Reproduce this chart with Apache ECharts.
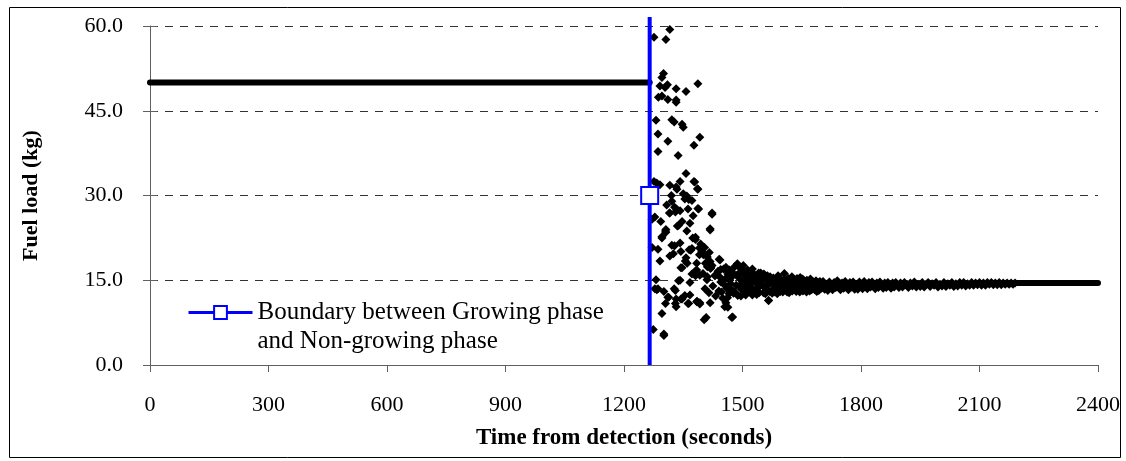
<!DOCTYPE html>
<html>
<head>
<meta charset="utf-8">
<script src="https://cdn.jsdelivr.net/npm/echarts@6/dist/echarts.min.js"></script>
<style>
html,body{margin:0;padding:0;background:#fff;}
#chart{width:1126px;height:461px;}
</style>
</head>
<body>
<div id="chart"></div>
<script>
// ---- data ----
var xTitle = 'Time from detection (seconds)';
var yTitle = 'Fuel load (kg)';
var boundaryName = 'Boundary between Growing phase\nand Non-growing phase';

// growing phase: fuel load held at 50 kg up to the boundary (dense points forming a line)
var growingPhase = [[0, 50], [1265, 50]];

// boundary between phases (vertical line, marker at 30 kg)
var boundaryX = 1265;
var boundaryY = [0, 30, 61.6];

// sparse scattered points right after the boundary
var scatterEarly = [
[1316,59.4],[1276,58.0],[1306,57.6],
[1300,51.6],[1296,50.9],[1291,49.4],[1310,49.6],[1304,49.1],[1332,48.9],[1357,48.4],[1387,49.8],[1287,47.4],[1296,47.6],[1311,47.0],[1332,46.9],[1332,46.5],
[1281,43.3],[1321,43.4],[1327,43.0],[1347,42.6],[1350,42.1],
[1286,40.9],[1392,40.3],[1311,39.6],[1377,38.9],[1286,37.8],[1337,37.1],
[1357,33.9],[1276,32.5],[1283,32.2],[1291,31.9],[1316,31.8],[1342,32.5],[1377,32.5],[1379,32.4],[1386,31.2],[1332,31.5],[1334,31.1],[1387,31.1],
[1320,30.0],[1350,30.3],[1359,29.9],[1364,29.3],[1372,29.1],[1354,29.4],[1321,29.0],[1308,28.3],
[1328,27.9],[1333,27.6],[1342,27.3],[1362,27.6],[1389,27.6],[1387,27.7],[1316,26.9],[1315,26.9],[1330,27.1],[1375,26.4],[1423,26.7],[1423,26.9],[1271,25.8],[1278,26.2],[1293,25.4],[1347,25.4],[1367,25.1],[1335,24.6],[1306,24.0],[1418,24.1],[1338,24.7],
[1305,23.7],[1359,23.7],[1306,23.5],[1418,23.9],[1296,22.5],[1374,22.5],[1381,22.2],[1381,22.6],[1296,22.7],
[1271,20.8],[1286,20.5],[1321,21.2],[1328,21.1],[1342,21.6],[1394,21.4],[1391,20.7],[1397,20.1],[1401,19.5],[1344,20.1],[1369,20.3],[1365,20.4],[1372,20.6],[1404,20.8],[1416,19.9],[1411,19.1],[1316,19.3],[1325,19.7],[1357,19.0],[1355,18.4],[1291,18.4],[1391,19.5],
[1418,18.3],[1423,17.6],[1443,18.6],[1441,18.7],[1360,18.0],[1384,18.0],[1406,18.0],[1411,17.4],[1344,17.2],[1347,17.2],[1419,17.1],[1458,17.3],[1445,16.9],[1467,16.8],[1487,17.9],[1492,17.3],[1502,17.6],[1525,17.0],[1379,16.5],[1384,16.8],[1372,16.1],[1381,15.8],[1392,15.9],[1411,15.6],[1431,15.9],[1541,16.3],[1554,16.1],[1563,15.8],
[1281,15.1],[1338,14.9],[1367,14.6],[1342,15.0],
[1278,13.5],[1283,13.3],[1327,13.5],[1286,13.5],[1330,13.2],[1301,13.0],[1477,12.7],[1354,12.3],[1367,12.4],
[1311,12.0],[1313,12.0],[1332,11.7],[1347,11.7],[1344,11.7],[1385,11.3],[1392,11.0],[1384,11.2],[1418,11.0],[1458,11.0],[1566,11.4],
[1305,10.9],[1330,10.9],[1364,10.9],[1362,10.9],[1392,10.8],[1332,10.3],[1463,10.2],[1455,10.3],
[1296,9.1],[1408,8.4],[1403,8.0],[1473,8.4],[1475,8.5],[1274,6.3],[1301,5.5],[1301,5.2]
];

// dense converging band
var band1 = [
[1400,16.2],[1405,13.5],[1410,15.1],[1415,12.8],[1420,17.2],[1425,14.0],[1430,15.8],[1432,12.2],[1438,16.6],[1440,13.1],[1445,14.7],[1450,11.8],[1452,17.0],[1456,15.2],[1460,13.6],[1463,16.1],[1466,12.6],[1470,14.4],[1474,15.7],[1478,13.0],[1480,17.4],[1484,14.1],[1488,12.3],[1490,15.5],[1494,16.4],[1497,13.4],[1500,14.8],[1503,12.7],[1506,15.9],[1510,13.8],[1513,16.8],[1516,14.3],[1520,12.9],[1523,15.3],[1526,13.5],[1530,16.0],[1533,14.6],[1536,12.5],[1540,15.1],[1543,13.9],[1546,16.3],[1550,14.2],
[1442,15.6],[1447,12.9],[1454,14.2],[1458,16.9],[1462,11.9],[1468,15.0],[1472,13.3],[1476,16.3],[1482,12.8],[1486,15.9],[1492,14.0],[1496,12.2],[1499,16.8],[1505,14.4],[1508,12.4],[1512,15.4],[1515,13.2],[1518,16.1],[1522,14.7],[1525,12.4],[1528,14.9],[1532,13.0],[1535,15.7],[1538,13.6],[1542,12.8],[1545,14.8],[1548,15.6]
];
var band2 = [
[1553,12.8],[1556,15.9],[1560,13.4],[1563,14.9],[1566,11.4],[1570,15.6],[1573,13.1],[1576,14.5],[1580,12.9],[1583,15.2],[1586,13.8],[1590,15.8],[1593,14.0],[1596,13.0],[1600,15.0],[1603,13.6],[1606,16.2],[1610,14.4],[1613,12.9],[1616,15.3],[1620,13.3],[1623,14.8],[1626,13.1],[1630,15.2],[1633,14.2],[1636,13.0],[1640,15.0],[1643,13.7],[1646,15.5],[1650,14.5],[1653,13.1],[1656,14.9],[1660,13.5],[1663,15.0],[1666,14.1],[1670,13.1],[1673,14.8],[1676,13.9],[1680,14.7],[1683,13.3],[1686,14.9],[1690,14.3],[1693,13.2],[1696,14.8],[1700,13.6],
[1551,15.3],[1555,13.9],[1558,12.6],[1561,15.6],[1565,14.2],[1568,13.0],[1571,14.6],[1575,12.7],[1578,15.4],[1582,13.7],[1585,14.9],[1588,12.6],[1592,15.0],[1595,13.3],[1598,14.5],[1602,12.9],[1605,14.9],[1608,13.5],[1612,15.1],[1615,14.0],[1618,12.8],[1622,14.4],[1625,15.6],[1628,13.6],[1632,14.9],[1635,13.4],[1638,15.3],[1642,14.3],[1645,12.9],[1648,13.8],[1652,15.2],[1655,13.4],[1658,14.3],[1662,12.9],[1665,14.6],[1668,13.7],[1672,15.2],[1675,13.3],[1678,14.4],[1682,13.6],[1685,14.2],[1688,13.0],[1692,14.6],[1695,13.5],[1698,14.1]
];
var band3 = [
[1704,14.8],[1708,13.4],[1712,14.3],[1716,13.2],[1720,14.7],[1724,13.9],[1728,13.3],[1732,14.6],[1736,13.7],[1740,14.9],[1744,14.1],[1748,13.3],[1752,14.5],[1756,13.6],[1760,14.8],[1764,14.2],[1768,13.3],[1772,14.6],[1776,13.8],[1780,14.7],[1784,13.4],[1788,14.3],[1792,13.4],[1796,14.7],[1800,14.0],[1804,13.5],[1808,14.8],[1812,13.9],[1816,13.5],[1820,14.6],[1824,13.8],[1828,14.7],[1832,14.1],[1836,13.5],[1840,14.5],[1844,13.7],[1848,14.7],[1852,14.1],[1856,13.6],[1860,14.5],[1864,13.7],[1868,14.6],[1872,14.0],[1876,13.6],[1880,14.5],[1884,13.8],[1888,14.6],[1892,14.2],[1896,13.7],[1900,14.5]
];
var band4 = [
[1905,13.8],[1910,14.6],[1915,14.1],[1920,13.7],[1925,14.5],[1930,14.0],[1935,14.7],[1940,13.8],[1945,14.3],[1950,13.9],[1955,14.6],[1960,13.8],[1965,14.3],[1970,14.6],[1975,13.9],[1980,14.4],[1985,14.1],[1990,14.6],[1995,13.8],[2000,14.3],[2005,14.0],[2010,14.6],[2015,13.9],[2020,14.4],[2025,14.1],[2030,14.6],[2035,13.9],[2040,14.4],[2045,14.0],[2050,14.6],[2055,14.1],[2060,14.6],[2065,14.0],[2070,14.4],[2075,14.1],[2080,14.6],[2085,14.1],[2090,14.5],[2095,14.2],[2100,14.6],[2105,14.1],[2110,14.5],[2115,14.1],[2120,14.6],[2125,14.3],[2130,14.6],[2135,14.2],[2140,14.5],[2145,14.2],[2150,14.6],[2155,14.2],[2160,14.5],[2165,14.3],[2170,14.5],[2175,14.3],[2180,14.5],[2185,14.3],[2190,14.5]
];
// settled tail (dense points forming a line)
var settledTail = [[2195, 14.5], [2400, 14.5]];

// axis ranges / ticks
var xMin = 0, xMax = 2400, xStep = 300;
var yMin = 0, yMax = 60, yStep = 15;

// ---- chart ----
var FONT = '"Liberation Serif", "Times New Roman", serif';
var chart = echarts.init(document.getElementById('chart'), null, {renderer: 'canvas'});

var axisLineStyle = {color: '#606060', width: 1};

var option = {
  backgroundColor: '#ffffff',
  animation: false,
  textStyle: {fontFamily: FONT},
  grid: {left: 150, right: 28, top: 26, bottom: 96, containLabel: false},
  legend: {
    data: [boundaryName],
    left: 182,
    top: 264,
    orient: 'vertical',
    itemWidth: 64,
    itemHeight: 16,
    selectedMode: false,
    lineStyle: {width: 3},
    formatter: function (name) { return ' \n' + name; },
    textStyle: {fontFamily: FONT, fontSize: 25, color: '#000', lineHeight: 29}
  },
  xAxis: {
    type: 'value', min: xMin, max: xMax, interval: xStep,
    name: xTitle, nameLocation: 'middle', nameGap: 62,
    nameTextStyle: {fontFamily: FONT, fontSize: 23, fontWeight: 'bold', color: '#000'},
    axisLine: {show: true, onZero: false, lineStyle: axisLineStyle},
    axisTick: {show: true, inside: false, length: 7, lineStyle: axisLineStyle},
    axisLabel: {fontFamily: FONT, fontSize: 22, color: '#000', margin: 29,
      formatter: function (v) { return String(v); }},
    splitLine: {show: false}
  },
  yAxis: [{
    type: 'value', min: yMin, max: yMax, interval: yStep,
    name: yTitle, nameLocation: 'middle', nameGap: 108,
    nameTextStyle: {fontFamily: FONT, fontSize: 22, fontWeight: 'bold', color: '#000'},
    axisLine: {show: true, lineStyle: axisLineStyle},
    axisTick: {show: true, inside: false, length: 7, lineStyle: axisLineStyle},
    axisLabel: {fontFamily: FONT, fontSize: 22, color: '#000', margin: 27,
      formatter: function (v) { return v.toFixed(1); }},
    splitLine: {show: true, lineStyle: {color: '#333', width: 1, type: [8, 7]}}
  }, {
    type: 'value', min: yMin, max: yMax, interval: yStep, position: 'left',
    axisLine: {show: false},
    axisTick: {show: true, inside: true, length: 7, lineStyle: axisLineStyle},
    axisLabel: {show: false},
    splitLine: {show: false}
  }],
  graphic: [{
    type: 'rect', left: 7, top: 5, silent: true,
    shape: {width: 1111, height: 450},
    style: {fill: 'none', stroke: '#000', lineWidth: 1}
  }],
  series: [
    {
      name: 'growing', type: 'line', data: growingPhase, symbol: 'none', silent: true,
      lineStyle: {color: '#000', width: 6, cap: 'round'}, z: 3
    },
    {
      name: 'points', type: 'scatter', silent: true,
      data: scatterEarly.concat(band1, band2, band3, band4),
      symbol: 'diamond', symbolSize: 9,
      itemStyle: {color: '#000', opacity: 1}, z: 3
    },
    {
      name: 'tail', type: 'line', data: settledTail, symbol: 'none', silent: true,
      lineStyle: {color: '#000', width: 6, cap: 'round'}, z: 3
    },
    {
      name: boundaryName, type: 'line', silent: true, clip: false, z: 5,
      color: '#0000ff',
      data: [
        {value: [boundaryX, boundaryY[0]], symbol: 'none'},
        {value: [boundaryX, boundaryY[1]]},
        {value: [boundaryX, boundaryY[2]], symbol: 'none'}
      ],
      symbol: 'rect', symbolSize: 17, showAllSymbol: true,
      itemStyle: {color: '#ffffff', borderColor: '#0000ff', borderWidth: 2},
      lineStyle: {color: '#0000ff', width: 4}
    }
  ]
};
chart.setOption(option);
</script>
</body>
</html>
